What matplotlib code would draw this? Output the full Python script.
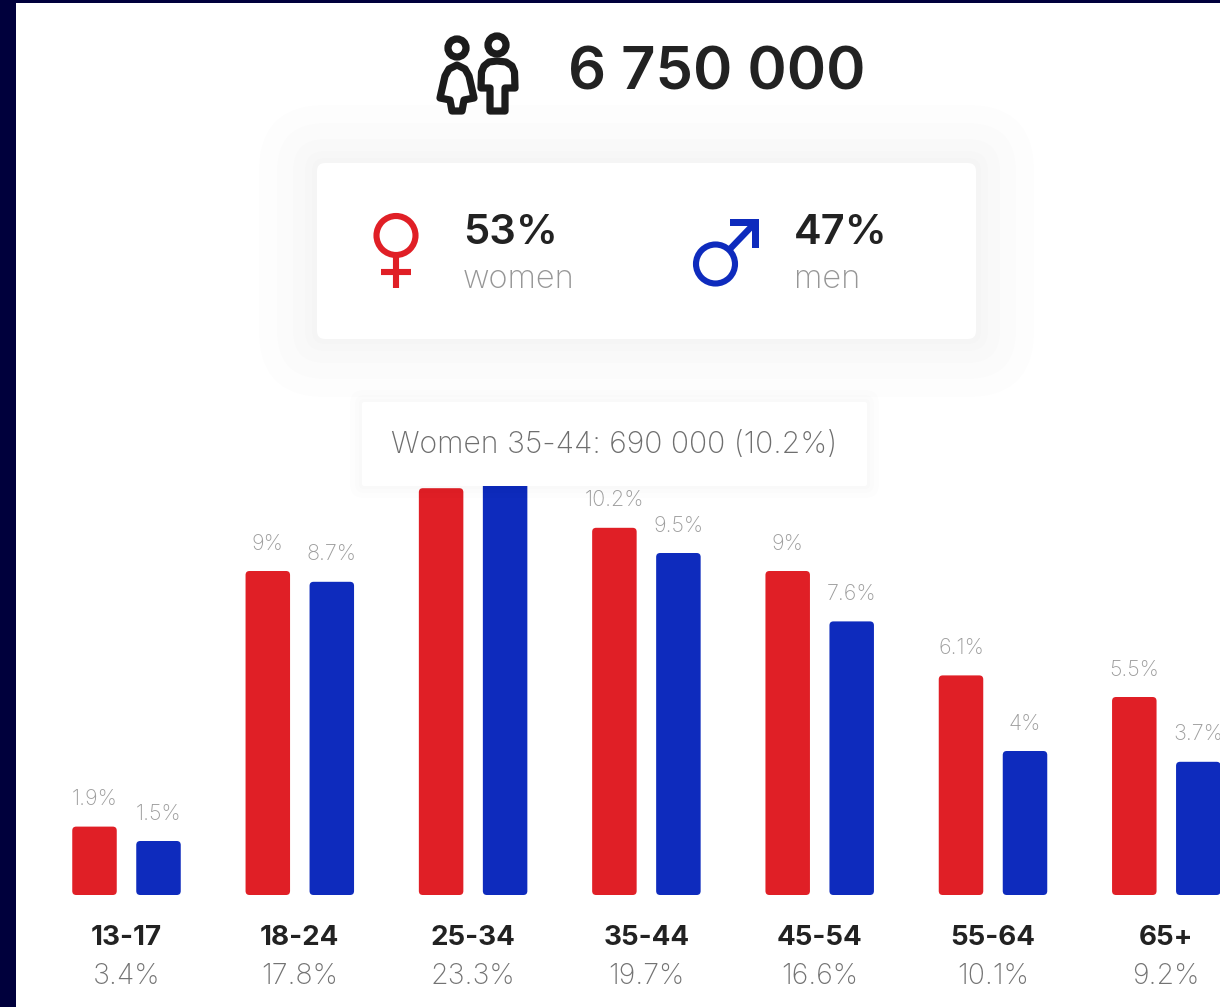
import matplotlib
matplotlib.use("Agg")
import matplotlib.pyplot as plt
from matplotlib.patches import FancyBboxPatch, Circle, Polygon, Rectangle

ages = ["13-17", "18-24", "25-34", "35-44", "45-54", "55-64", "65+"]
totals = ["3.4%", "17.8%", "23.3%", "19.7%", "16.6%", "10.1%", "9.2%"]
women = [1.9, 9, 11.3, 10.2, 9, 6.1, 5.5]
men = [1.5, 8.7, 12, 9.5, 7.6, 4, 3.7]
women_labels = ["1.9%", "9%", "", "10.2%", "9%", "6.1%", "5.5%"]
men_labels = ["1.5%", "8.7%", "", "9.5%", "7.6%", "4%", "3.7%"]

RED = "#e01f26"
BLUE = "#0e2bbd"
NAVY = "#00003c"
DARK = "#222222"
FONT = "Inter"

W, H = 1220, 1007
fig = plt.figure(figsize=(W / 100, H / 100), dpi=100, facecolor="white")

# bars: 173.3 px per age group, 36 px per percent, baseline at y=895
step = 173.3
x0 = 126.5
per = 36.0
ax = fig.add_axes([16 / W, (H - 895) / H, (W - 16) / W, 495 / H])
ax.set_xlim((16 - x0) / step, (W - x0) / step)
ax.set_ylim(0, 495 / per)
ax.axis("off")

bw = 44.5 / step
off = 32 / step
asp = (1 / per) / (1 / step)
for i in range(len(ages)):
    for vals, labs, sign, col in [(women, women_labels, -1, RED), (men, men_labels, 1, BLUE)]:
        cx = i + sign * off
        ax.add_patch(FancyBboxPatch((cx - bw / 2, 0), bw, vals[i],
                                    boxstyle="round,pad=0,rounding_size=%f" % (4 / step),
                                    mutation_aspect=asp, fc=col, ec="none"))
        ax.annotate(labs[i], (cx, vals[i]), xytext=(0, 27.5 * 0.72), textcoords="offset points",
                    ha="center", va="center", fontsize=15.5, color="#9c9c9c",
                    family=FONT, weight="light", annotation_clip=False)
    ax.annotate(ages[i], (i, 0), xytext=(0, -43 * 0.72), textcoords="offset points",
                ha="center", va="center", fontsize=20, color=DARK,
                family=FONT, weight="bold", annotation_clip=False)
    ax.annotate(totals[i], (i, 0), xytext=(0, -81 * 0.72), textcoords="offset points",
                ha="center", va="center", fontsize=20.5, color="#737373",
                family=FONT, weight="light", annotation_clip=False)

# overlay in pixel coordinates
ov = fig.add_axes([0, 0, 1, 1], facecolor="none")
ov.set_xlim(0, W)
ov.set_ylim(H, 0)
ov.axis("off")

ov.add_patch(Rectangle((0, 0), 16, H, fc=NAVY, ec="none"))
ov.add_patch(Rectangle((0, 0), W, 3, fc=NAVY, ec="none"))


def soft_box(x, y, w, h, layers, r=8):
    for k in layers:
        ov.add_patch(FancyBboxPatch((x - k, y - k), w + 2 * k, h + 2 * k,
                                    boxstyle="round,pad=0,rounding_size=%d" % (r + k),
                                    fc="black", ec="none", alpha=0.006))
    ov.add_patch(FancyBboxPatch((x, y), w, h, boxstyle="round,pad=0,rounding_size=%d" % r,
                                fc="white", ec="none"))


soft_box(317, 163, 659, 176, [58, 40, 24, 12, 5])
soft_box(362, 402, 505, 84, [12, 7, 3], r=2)

ov.text(568, 74, "6 750 000", fontsize=43, color=DARK, family=FONT, weight="semibold",
        ha="left", va="center")
ov.text(463, 233, "53%", fontsize=30, color=DARK, family=FONT, weight="semibold", ha="left", va="center")
ov.text(463, 280, "women", fontsize=23.5, color="#969696", family=FONT, weight="light", ha="left", va="center")
ov.text(794, 233, "47%", fontsize=30, color=DARK, family=FONT, weight="semibold", ha="left", va="center")
ov.text(794, 280, "men", fontsize=23.5, color="#969696", family=FONT, weight="light", ha="left", va="center")
ov.text(391, 445, "Women 35-44: 690 000 (10.2%)", fontsize=21.7, color="#6e6e6e", family=FONT,
        weight="light", ha="left", va="center")

# female sign
ov.add_patch(Circle((396, 235.5), 19.5, fc="none", ec=RED, lw=4.4))
ov.plot([396, 396], [256, 288], color=RED, lw=4.4, solid_capstyle="butt")
ov.plot([381, 411], [272, 272], color=RED, lw=4.4, solid_capstyle="butt")

# male sign
ov.add_patch(Circle((715.5, 264), 19.5, fc="none", ec=BLUE, lw=4.4))
ov.plot([729, 753], [250, 225], color=BLUE, lw=4.6, solid_capstyle="butt")
ov.add_patch(Polygon([(730, 219), (759, 219), (759, 248), (752, 248), (752, 226), (730, 226)],
                     fc=BLUE, ec="none"))

# people icon
ICON = "#1c1c1c"
ov.add_patch(Circle((457, 48), 9, fc="none", ec=ICON, lw=5.2))
ov.add_patch(Circle((497, 45), 9, fc="none", ec=ICON, lw=5.2))
dress = [(457, 65), (449, 69), (445, 76), (440, 98), (450, 100), (452, 111), (462, 111), (464, 100),
         (474, 98), (469, 76), (465, 69)]
ov.add_patch(Polygon(dress, closed=True, fc="none", ec=ICON, lw=5.2, joinstyle="round"))
suit = [(497, 61), (489, 62), (484, 66), (481.5, 72), (481, 88), (490, 88), (490, 111), (505, 111),
        (505, 88), (515, 88), (514.5, 72), (512, 66), (506, 62)]
ov.add_patch(Polygon(suit, closed=True, fc="none", ec=ICON, lw=5.2, joinstyle="round"))

fig.savefig("out.png", dpi=100)
